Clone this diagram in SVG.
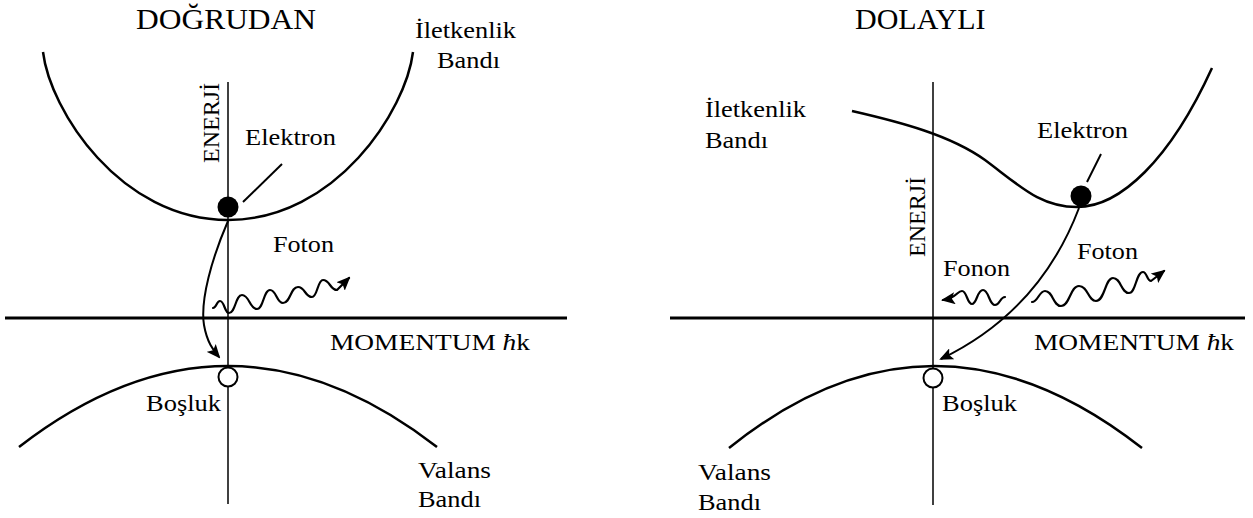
<svg xmlns="http://www.w3.org/2000/svg" width="1253" height="518" viewBox="0 0 1253 518">
<defs>
<style>
.t{font-family:"Liberation Serif","Times New Roman",serif;font-size:24px;fill:#000}
.title{font-size:30px}
.ax{fill:none;stroke:#000;stroke-width:1.5}
.hax{fill:none;stroke:#000;stroke-width:3}
.band{fill:none;stroke:#000;stroke-width:2.5}
.ln{fill:none;stroke:#000;stroke-width:2}
.wave{fill:none;stroke:#000;stroke-width:2.2;stroke-linejoin:round;stroke-linecap:round}
.el{fill:#000}
.hole{fill:#fff;stroke:#000;stroke-width:2}
</style>
<marker id="ah" markerWidth="14" markerHeight="12" refX="12" refY="6" orient="auto" markerUnits="userSpaceOnUse">
<path d="M0,0 L14,6 L0,12 L3,6 z" fill="#000"/>
</marker>
</defs>
<rect width="1253" height="518" fill="#fff"/>

<g id="direct-panel">
  <g id="direct-title"><text class="t title" x="136" y="29" textLength="180" lengthAdjust="spacingAndGlyphs">DOĞRUDAN</text></g>
  <g id="direct-axes">
    <line class="ax" x1="228" y1="82" x2="228" y2="504"/>
    <line class="hax" x1="5" y1="318" x2="567" y2="318"/>
    <text class="t" transform="translate(219,163) rotate(-90)">ENERJİ</text>
    <text class="t" x="330" y="350" textLength="200" lengthAdjust="spacingAndGlyphs">MOMENTUM <tspan font-style="italic">ħ</tspan>k</text>
  </g>
  <g id="direct-conduction-band">
    <path class="band" d="M43,52 C50,110 120,220 228,220 C336,220 406,110 413,52"/>
    <text class="t" x="415" y="38" textLength="101" lengthAdjust="spacingAndGlyphs">İletkenlik</text>
    <text class="t" x="437" y="68" textLength="63" lengthAdjust="spacingAndGlyphs">Bandı</text>
  </g>
  <g id="direct-valence-band">
    <path class="band" d="M19,447 Q228,285 437,447"/>
    <text class="t" x="418" y="478" textLength="73" lengthAdjust="spacingAndGlyphs">Valans</text>
    <text class="t" x="418" y="507" textLength="63" lengthAdjust="spacingAndGlyphs">Bandı</text>
  </g>
  <g id="direct-electron">
    <circle class="el" cx="228" cy="207" r="10.5"/>
    <line class="ln" x1="282" y1="164" x2="243" y2="202"/>
    <text class="t" x="245" y="145" textLength="91" lengthAdjust="spacingAndGlyphs">Elektron</text>
  </g>
  <g id="direct-hole">
    <circle class="hole" cx="228" cy="377" r="9.5"/>
    <text class="t" x="146" y="411" textLength="75" lengthAdjust="spacingAndGlyphs">Boşluk</text>
  </g>
  <g id="direct-photon">
    <text class="t" x="273" y="252" textLength="61" lengthAdjust="spacingAndGlyphs">Foton</text>
  </g>
</g>

<g id="indirect-panel">
  <g id="indirect-title"><text class="t title" x="855" y="29">DOLAYLI</text></g>
  <g id="indirect-axes">
    <line class="ax" x1="933" y1="82" x2="933" y2="505"/>
    <line class="hax" x1="670" y1="318" x2="1245" y2="318"/>
    <text class="t" transform="translate(925,257) rotate(-90)">ENERJİ</text>
    <text class="t" x="1034" y="350" textLength="200" lengthAdjust="spacingAndGlyphs">MOMENTUM <tspan font-style="italic">ħ</tspan>k</text>
  </g>
  <g id="indirect-conduction-band">
    <path class="band" d="M852,111 C900,122 950,135 985,160 C1020,186 1040,207 1077,207 C1120,207 1170,160 1212,68"/>
    <text class="t" x="705" y="117" textLength="101" lengthAdjust="spacingAndGlyphs">İletkenlik</text>
    <text class="t" x="705" y="148" textLength="63" lengthAdjust="spacingAndGlyphs">Bandı</text>
  </g>
  <g id="indirect-valence-band">
    <path class="band" d="M729,448 Q933,284 1142,448"/>
    <text class="t" x="698" y="480" textLength="73" lengthAdjust="spacingAndGlyphs">Valans</text>
    <text class="t" x="698" y="510" textLength="63" lengthAdjust="spacingAndGlyphs">Bandı</text>
  </g>
  <g id="indirect-electron">
    <circle class="el" cx="1081" cy="196" r="10.5"/>
    <line class="ln" x1="1101" y1="154" x2="1087" y2="182"/>
    <text class="t" x="1037" y="138" textLength="91" lengthAdjust="spacingAndGlyphs">Elektron</text>
  </g>
  <g id="indirect-hole">
    <circle class="hole" cx="933" cy="378" r="9.5"/>
    <text class="t" x="942" y="411" textLength="75" lengthAdjust="spacingAndGlyphs">Boşluk</text>
  </g>
  <g id="indirect-photon">
    <text class="t" x="1077" y="259" textLength="61" lengthAdjust="spacingAndGlyphs">Foton</text>
  </g>
  <g id="indirect-phonon">
    <text class="t" x="943" y="276" textLength="67" lengthAdjust="spacingAndGlyphs">Fonon</text>
  </g>
</g>

<g id="connectors">
  <path class="ln" marker-end="url(#ah)" d="M228,221 C212,258 200,300 204,325 C207,342 213,350 219,357"/>
  <path class="wave" marker-end="url(#ah)" d="M213,308 C216.5,308 216.5,301 220,301 C224.5,301 224.5,313 229,313 C235.5,313 235.5,295 242,295 C249.5,295 249.5,309 257,309 C263.5,309 263.5,290 270,290 C276.5,290 276.5,303 283,303 C290.5,303 290.5,287 298,287 C305,287 305,297 312,297 C317.5,297 317.5,280 323,280 C330,280 330,290 337,290 L349,278"/>
  <path class="ln" marker-end="url(#ah)" d="M1079,208 C1060,258 1022,320 941,359"/>
  <path class="wave" marker-end="url(#ah)" d="M1032,302 C1038,302 1039,291 1045,291 C1053,291 1053,306 1061,306 C1070,306 1070,286 1079,286 C1088,286 1088,301 1096,301 C1105,301 1105,278 1113,278 C1121,278 1121,293 1129,293 C1136,293 1136,272 1143,272 C1147,272 1147,281 1151,281 L1164,271"/>
  <path class="wave" marker-end="url(#ah)" d="M1005,297 C1000,297 1000,305 995,305 C989,305 989,290 983,290 C977,290 977,304 972,304 C967,304 967,291 962,291 C957,291 957,298 943,300"/>
</g>
</svg>
